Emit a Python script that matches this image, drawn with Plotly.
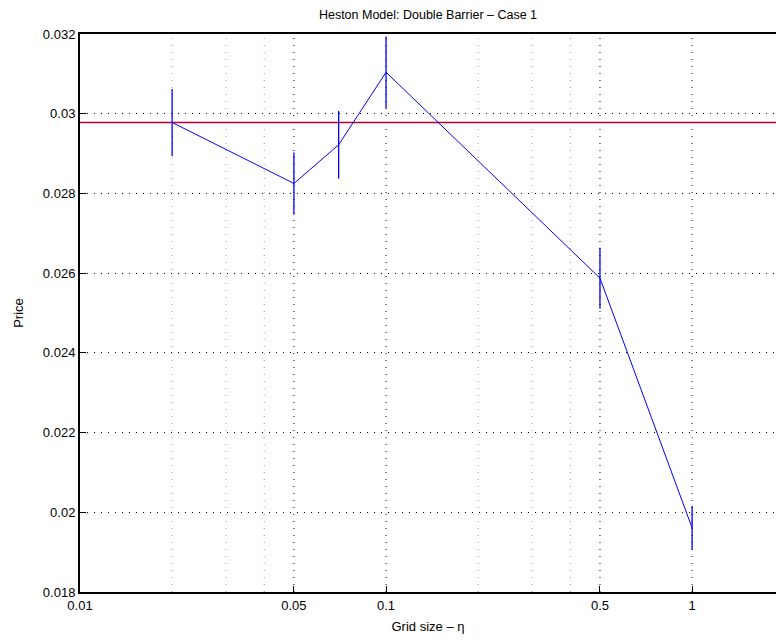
import math
import plotly.graph_objects as go

# Grid sizes (eta) and Monte Carlo price estimates with their error half-widths
grid_sizes = [0.02, 0.05, 0.07, 0.1, 0.5, 1.0]
prices = [0.02978, 0.02825, 0.02922, 0.03104, 0.025875, 0.01961]
price_err = [0.00084, 0.00078, 0.00085, 0.00090, 0.00076, 0.00055]
reference_price = 0.02978

x_tick_vals = [0.01, 0.05, 0.1, 0.5, 1]
x_tick_text = ["0.01", "0.05", "0.1", "0.5", "1"]
x_minor_vals = [0.02, 0.03, 0.04, 0.2, 0.3, 0.4]
y_tick_vals = [0.018, 0.020, 0.022, 0.024, 0.026, 0.028, 0.030, 0.032]
y_tick_text = ["0.018", "0.02", "0.022", "0.024", "0.026", "0.028", "0.03", "0.032"]

x_lo, x_hi = 0.01, 1.88

fig = go.Figure()

# Reference price level across the full axis
fig.add_trace(go.Scatter(
    x=[x_lo, x_hi], y=[reference_price, reference_price],
    mode="lines", line=dict(color="#b3002d", width=1.5),
    hoverinfo="skip", showlegend=False,
))

# Estimates with uncapped vertical error bars
fig.add_trace(go.Scatter(
    x=grid_sizes, y=prices, mode="lines",
    line=dict(color="#0000ff", width=1),
    error_y=dict(type="data", array=price_err, color="#0000ff",
                 thickness=1.3, width=0, visible=True),
    showlegend=False,
))

font_family = "Liberation Sans, Arial, Helvetica, sans-serif"
dots = "1px,6px"

fig.update_layout(
    width=776, height=640,
    margin=dict(l=80, r=0, t=34, b=48),
    paper_bgcolor="white", plot_bgcolor="white",
    font=dict(family=font_family, size=13, color="black"),
    title=dict(text="Heston Model: Double Barrier \u2013 Case 1",
               x=(80 + 776) / 2 / 776, xanchor="center",
               y=1 - 15 / 640, yanchor="middle",
               font=dict(size=12.5, family=font_family, color="black")),
    xaxis=dict(
        type="log", range=[math.log10(x_lo), math.log10(x_hi)],
        tickmode="array", tickvals=x_tick_vals, ticktext=x_tick_text,
        ticks="inside", ticklen=6, tickcolor="black", tickwidth=1,
        showline=True, linecolor="black", linewidth=2, mirror=True,
        showgrid=False,
        zeroline=False,
        title=dict(text="Grid size \u2013 \u03b7", standoff=10,
                   font=dict(size=13, family=font_family)),
        tickfont=dict(size=13, family=font_family),
    ),
    yaxis=dict(
        range=[0.018, 0.032],
        tickmode="array", tickvals=y_tick_vals, ticktext=y_tick_text,
        ticks="inside", ticklen=6, tickcolor="black", tickwidth=1,
        showline=True, linecolor="black", linewidth=2, mirror=False,
        showgrid=True, gridcolor="black", griddash=dots, gridwidth=1,
        zeroline=False,
        title=dict(text="Price", standoff=16,
                   font=dict(size=13, family=font_family)),
        tickfont=dict(size=13, family=font_family),
    ),
)

# Vertical dotted grid: black at labelled decades, grey at intermediate values
for xv in x_tick_vals[1:]:
    fig.add_vline(x=xv, line=dict(color="black", width=1, dash=dots), layer="below")
for xv in x_minor_vals:
    fig.add_vline(x=xv, line=dict(color="#999999", width=1, dash=dots), layer="below")

fig.write_html("out.html")
